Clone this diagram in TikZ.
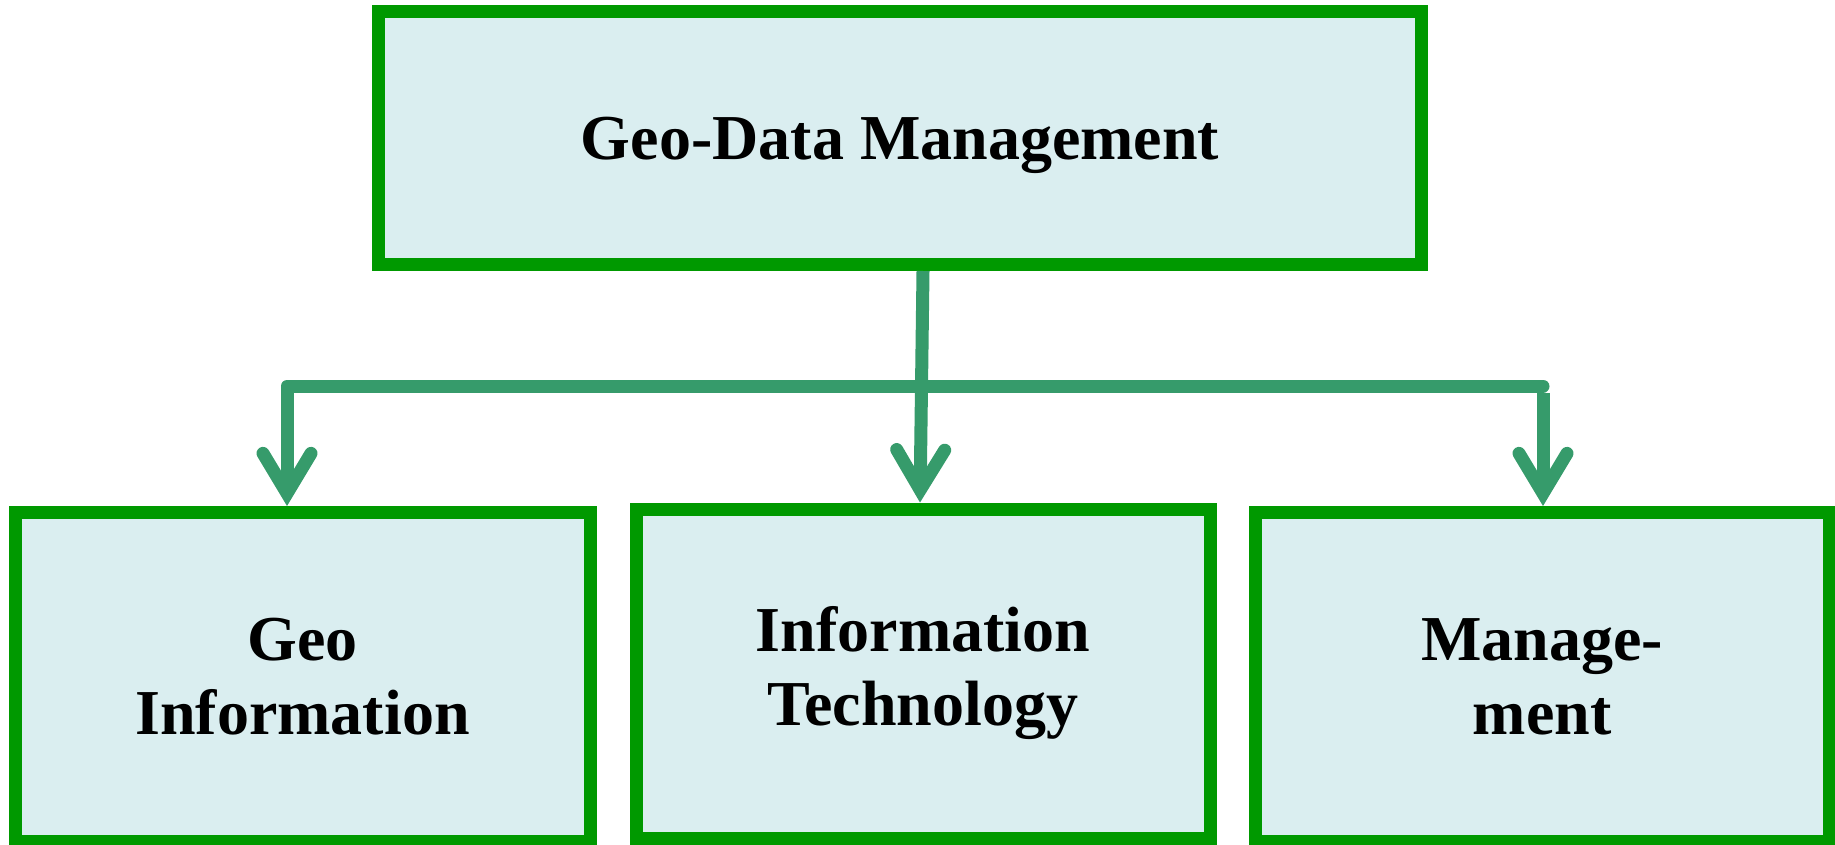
\documentclass[tikz,border=0pt]{standalone}
\usepackage{fontspec}
\setmainfont{Liberation Serif}
\usetikzlibrary{arrows.meta}
\definecolor{boxgreen}{RGB}{0,153,0}
\definecolor{boxfill}{RGB}{218,238,240}
\definecolor{linkgreen}{RGB}{54,155,107}
\tikzset{
  box/.style={draw=boxgreen, fill=boxfill, line width=13pt, rectangle,
    inner sep=0pt, align=center, font=\bfseries\fontsize{64}{74}\selectfont},
  conn/.style={draw=linkgreen, line width=13pt},
  tipv/.style={-{Straight Barb[length=40pt,width=48pt,line cap=round,line join=miter]}}
}
\begin{document}
\begin{tikzpicture}[x=1pt,y=-1pt]
\useasboundingbox (0,0) rectangle (1835,845);
\node[box, minimum width=1043.5pt, minimum height=252.5pt, text depth=0pt] (top) at (900,138.25) {Geo-Data Management};
\node[box, minimum width=575pt, minimum height=329pt] (geo) at (302.5,677) {Geo\\Information};
\node[box, minimum width=574pt, minimum height=329pt] (it) at (923,673.5) {Information\\Technology};
\node[box, minimum width=574pt, minimum height=329pt] (mg) at (1542,677) {Manage-\\ment};
\coordinate (hr) at (1543,386);
\coordinate (hl) at (287,386);
\coordinate (hrv) at (1543,393);
\coordinate (mvt) at (923,0);
\coordinate (mvb) at (920,0);
\draw[conn, tipv, line cap=round, line join=round] (hr) -- (hl) -- (geo.north -| hl);
\draw[conn, tipv] (hrv) -- (mg.north -| hrv);
\draw[conn, tipv] (top.south -| mvt) -- (it.north -| mvb);
\end{tikzpicture}
\end{document}
